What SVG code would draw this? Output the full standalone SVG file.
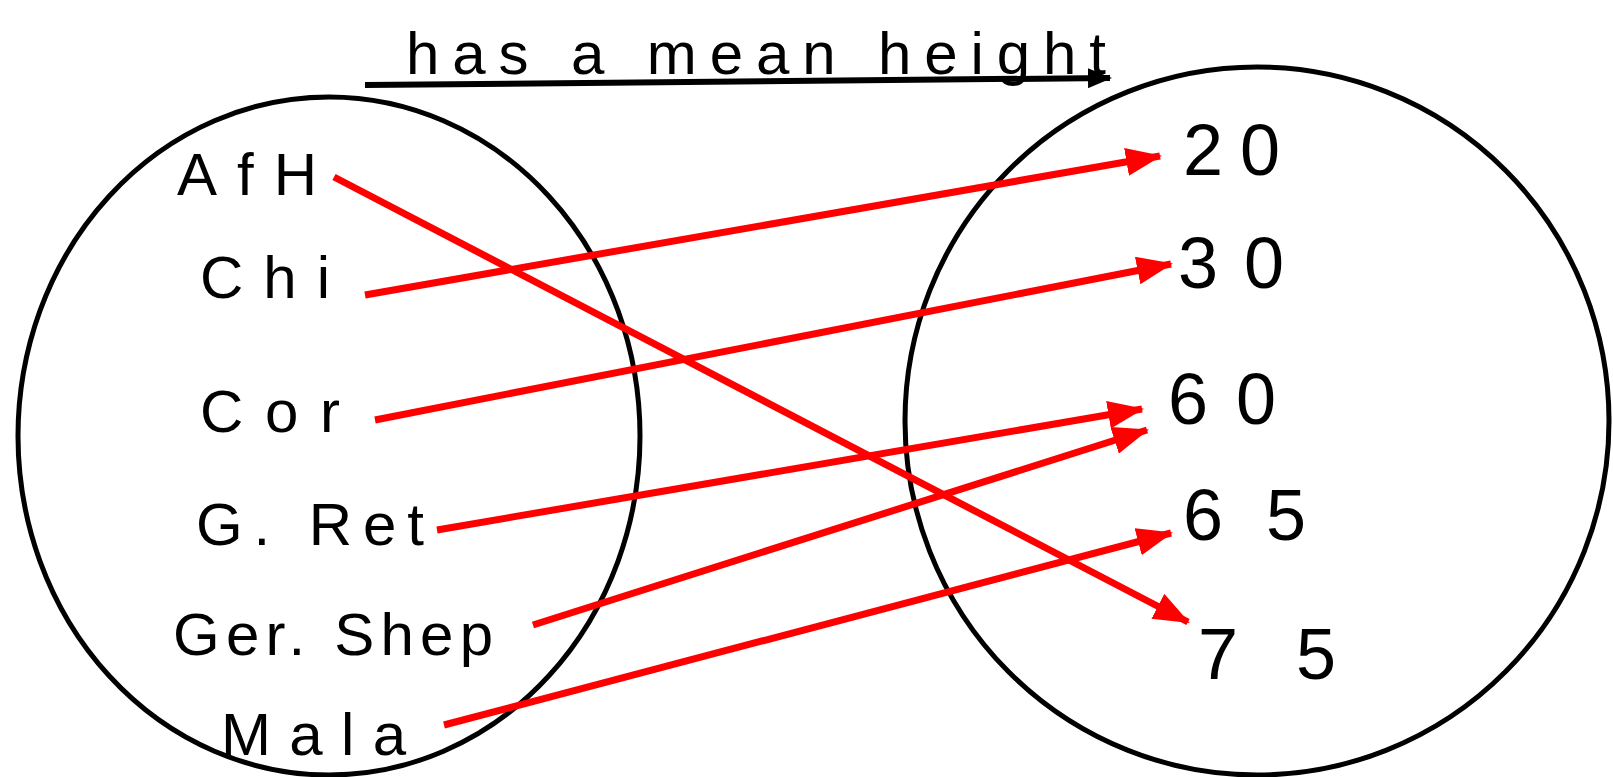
<svg xmlns="http://www.w3.org/2000/svg" width="1613" height="777" viewBox="0 0 1613 777">
<style>
.set{fill:none;stroke:#000;stroke-width:5}
.lbl{font-family:"Liberation Sans",Arial,sans-serif;font-size:60px;fill:#000}
.num{font-family:"Liberation Sans",Arial,sans-serif;font-size:72px;fill:#000}
.map{stroke:#ff0000;stroke-width:7;fill:none;marker-end:url(#ar)}
</style>
<defs>
<marker id="ar" markerUnits="userSpaceOnUse" markerWidth="36" markerHeight="28" viewBox="0 0 36 28" refX="34" refY="14" orient="auto">
<path d="M0,0 L36,14 L0,28 Z" fill="#ff0000"/>
</marker>
<marker id="ak" markerUnits="userSpaceOnUse" markerWidth="24" markerHeight="20" viewBox="0 0 24 20" refX="22" refY="10" orient="auto">
<path d="M0,0 L24,10 L0,20 Z" fill="#000"/>
</marker>
</defs>
<rect width="1613" height="777" fill="#fff"/>
<g id="domain"><ellipse class="set" cx="329" cy="436" rx="311" ry="339"/></g>
<g id="range"><ellipse class="set" cx="1257" cy="421" rx="352" ry="354"/></g>
<g id="relation">
<line x1="365" y1="85" x2="1110" y2="78" stroke="#000" stroke-width="6" marker-end="url(#ak)"/>
<text class="lbl" x="406" y="74" textLength="700" lengthAdjust="spacing">has  a mean height</text>
</g>
<g id="AfH"><text class="lbl" x="177" y="195" textLength="140" lengthAdjust="spacing">AfH</text></g>
<g id="Chi"><text class="lbl" x="200" y="298" textLength="130" lengthAdjust="spacing">Chi</text></g>
<g id="Cor"><text class="lbl" x="200" y="432" textLength="140" lengthAdjust="spacing">Cor</text></g>
<g id="GRet"><text class="lbl" x="196" y="545" textLength="228" lengthAdjust="spacing">G. Ret</text></g>
<g id="GerShep"><text class="lbl" x="173" y="655" textLength="320" lengthAdjust="spacing">Ger. Shep</text></g>
<g id="Mala"><text class="lbl" x="221" y="755" textLength="185" lengthAdjust="spacing">Mala</text></g>
<g id="n20"><text class="num" x="1183" y="175" textLength="97" lengthAdjust="spacing">20</text></g>
<g id="n30"><text class="num" x="1178" y="288" textLength="106" lengthAdjust="spacing">30</text></g>
<g id="n60"><text class="num" x="1168" y="424" textLength="108" lengthAdjust="spacing">60</text></g>
<g id="n65"><text class="num" x="1183" y="540" textLength="123" lengthAdjust="spacing">65</text></g>
<g id="n75"><text class="num" x="1198" y="679" textLength="138" lengthAdjust="spacing">75</text></g>
<g id="connectors">
<line class="map" x1="334" y1="177" x2="1188" y2="622"/>
<line class="map" x1="365" y1="295" x2="1160" y2="156"/>
<line class="map" x1="375" y1="420" x2="1171" y2="264"/>
<line class="map" x1="437" y1="530" x2="1142" y2="409"/>
<line class="map" x1="533" y1="625" x2="1147" y2="430"/>
<line class="map" x1="444" y1="725" x2="1171" y2="533"/>
</g>
</svg>
